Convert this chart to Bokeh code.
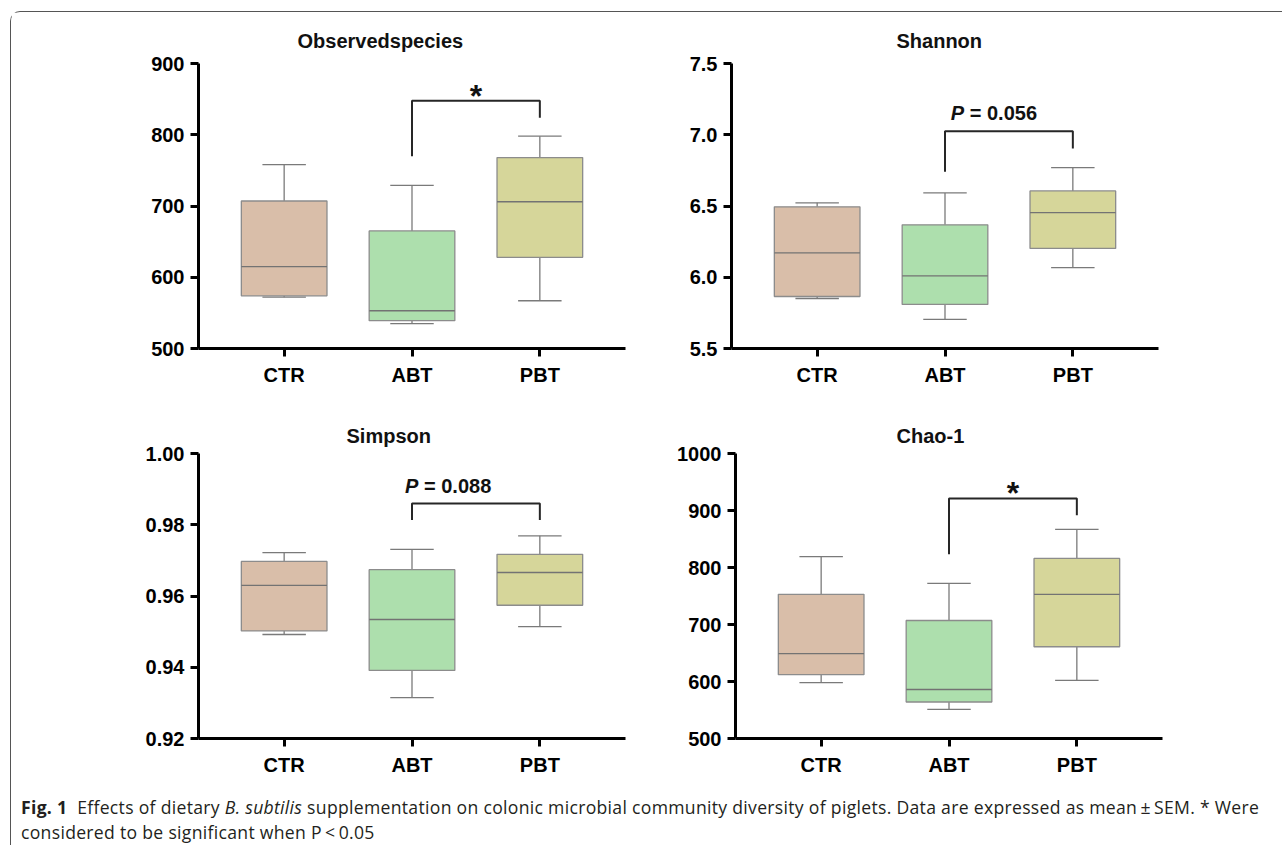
from bokeh.plotting import figure
from bokeh.layouts import column, row
from bokeh.models import FixedTicker, PrintfTickFormatter, Div, Range1d
from bokeh.embed import file_html
from bokeh.resources import INLINE
from bokeh.core.properties import value

# ---------------- data ----------------
groups = ["CTR", "ABT", "PBT"]
fills = ["#D9BEA9", "#ADDFAD", "#D6D69A"]

# Observed species
obs_low = [572, 535, 567]
obs_q1 = [574, 539, 628]
obs_med = [615, 553, 706]
obs_q3 = [707, 665, 768]
obs_high = [758, 729, 798]
obs_ticks = [500, 600, 700, 800, 900]
obs_bracket = [770, 847.6, 847.6, 823.7]
obs_mark_y = 860

# Shannon
sha_low = [5.851, 5.704, 6.068]
sha_q1 = [5.865, 5.809, 6.202]
sha_med = [6.171, 6.010, 6.454]
sha_q3 = [6.494, 6.368, 6.606]
sha_high = [6.522, 6.592, 6.770]
sha_ticks = [5.5, 6.0, 6.5, 7.0, 7.5]
sha_bracket = [6.740, 7.025, 7.025, 6.904]
sha_mark_y = 7.102

# Simpson
sim_low = [0.9492, 0.9315, 0.9514]
sim_q1 = [0.9502, 0.9391, 0.9574]
sim_med = [0.9630, 0.9534, 0.9666]
sim_q3 = [0.9697, 0.9674, 0.9717]
sim_high = [0.9722, 0.9731, 0.9769]
sim_ticks = [0.92, 0.94, 0.96, 0.98, 1.00]
sim_bracket = [0.9813, 0.9860, 0.9860, 0.9813]
sim_mark_y = 0.98896

# Chao-1
cha_low = [598, 551, 602]
cha_q1 = [612, 564, 661]
cha_med = [649, 586, 753]
cha_q3 = [753, 707, 816]
cha_high = [819, 772, 867]
cha_ticks = [500, 600, 700, 800, 900, 1000]
cha_bracket = [823.4, 921.1, 921.1, 891.8]
cha_mark_y = 935.7

pair = ["ABT", "PBT"]

FONT = "Liberation Sans"
BOX_W = 0.67
CAP_W = 0.34


def panel(title, low, q1, med, q3, high, ylim, yticks, fmt, bracket, mark, mark_y,
          mark_dx, width, height, mbl, mbr, mbt, mbb, t_off, t_stand, star_off):
    xs = [i + 1 for i in range(len(groups))]
    p = figure(width=width, height=height, x_range=Range1d(0.33, 3.67),
               y_range=Range1d(ylim[0], ylim[1]), output_backend="svg",
               toolbar_location=None, min_border_left=mbl, min_border_right=mbr,
               min_border_top=mbt, min_border_bottom=mbb, background_fill_color="white",
               border_fill_color="white")
    p.grid.visible = False
    p.outline_line_color = None
    p.title.text = title
    p.title.align = "left"
    p.title.text_font = FONT
    p.title.text_font_size = "20px"
    p.title.text_font_style = "bold"
    p.title.text_color = "#111111"
    p.title.offset = t_off
    p.title.standoff = t_stand

    # whiskers
    p.segment(x0=xs, y0=q3, x1=xs, y1=high, line_color="#7a7a7a", line_width=1.3)
    p.segment(x0=xs, y0=low, x1=xs, y1=q1, line_color="#7a7a7a", line_width=1.3)
    p.segment(x0=[x - CAP_W / 2 for x in xs], y0=high, x1=[x + CAP_W / 2 for x in xs], y1=high,
              line_color="#7a7a7a", line_width=1.3)
    p.segment(x0=[x - CAP_W / 2 for x in xs], y0=low, x1=[x + CAP_W / 2 for x in xs], y1=low,
              line_color="#7a7a7a", line_width=1.3)
    # boxes
    p.vbar(x=xs, width=BOX_W, bottom=q1, top=q3, fill_color=fills,
           line_color="#8c8c8c", line_width=1.3)
    p.segment(x0=[x - BOX_W / 2 for x in xs], y0=med, x1=[x + BOX_W / 2 for x in xs], y1=med,
              line_color="#737373", line_width=1.3)

    # significance bracket
    xa = groups.index(pair[0]) + 1
    xb = groups.index(pair[1]) + 1
    p.line(x=[xa, xa, xb, xb], y=bracket, line_color="#262626", line_width=2)
    if mark == "*":
        p.text(x=[(xa + xb) / 2], y=[mark_y], text=["*"], text_font=value(FONT),
               text_font_size="32px", text_font_style="bold", text_align="center",
               text_baseline="alphabetic", y_offset=star_off, text_color="#111111")
    else:
        p.text(x=[xa + mark_dx], y=[mark_y], text=["P"], text_font=value(FONT),
               text_font_size="20px", text_font_style="bold italic", text_align="left",
               text_baseline="alphabetic", y_offset=-7, text_color="#111111")
        p.text(x=[xa + mark_dx], y=[mark_y], text=["= " + mark], text_font=value(FONT),
               text_font_size="20px", text_font_style="bold", text_align="left",
               text_baseline="alphabetic", x_offset=19, y_offset=-7, text_color="#111111")

    # axes
    p.xaxis.ticker = FixedTicker(ticks=xs)
    p.xaxis.major_label_overrides = {x: g for x, g in zip(xs, groups)}
    p.yaxis.ticker = FixedTicker(ticks=yticks)
    p.yaxis.formatter = PrintfTickFormatter(format=fmt)
    for ax in (p.xaxis, p.yaxis):
        ax.axis_line_width = 3
        ax.axis_line_color = "black"
        ax.major_tick_line_width = 3
        ax.major_tick_line_color = "black"
        ax.major_tick_out = 8
        ax.major_tick_in = 0
        ax.minor_tick_line_color = None
        ax.major_label_text_font = FONT
        ax.major_label_text_font_size = "20px"
        ax.major_label_text_font_style = "bold"
        ax.major_label_text_color = "black"
    p.yaxis.major_label_standoff = 6
    p.xaxis.major_label_standoff = 7
    return p


p1 = panel("Observedspecies", obs_low, obs_q1, obs_med, obs_q3, obs_high, (500, 900),
           obs_ticks, "%d", obs_bracket, "*", obs_mark_y, 0,
           654, 383, 187, 40, 51, 47, 99, 23, 4)
p2 = panel("Shannon", sha_low, sha_q1, sha_med, sha_q3, sha_high, (5.5, 7.5),
           sha_ticks, "%.1f", sha_bracket, "0.056", sha_mark_y, 0.045,
           593, 383, 66, 100, 51, 47, 165, 23, 0)
p3 = panel("Simpson", sim_low, sim_q1, sim_med, sim_q3, sim_high, (0.92, 1.00),
           sim_ticks, "%.2f", sim_bracket, "0.088", sim_mark_y, -0.055,
           654, 390, 187, 40, 58, 47, 148, 14, 0)
p4 = panel("Chao-1", cha_low, cha_q1, cha_med, cha_q3, cha_high, (500, 1000),
           cha_ticks, "%d", cha_bracket, "*", cha_mark_y, 0,
           593, 390, 70, 96, 58, 47, 161, 14, 3)

caption_html = (
    '<div style="font-family:\'Open Sans\',sans-serif;font-size:17.6px;line-height:24.5px;'
    'letter-spacing:0.3px;color:#231f20;white-space:nowrap;">'
    '<b>Fig. 1</b>&nbsp; Effects of dietary <i>B. subtilis</i> supplementation on colonic '
    'microbial community diversity of piglets. Data are expressed as mean&thinsp;&plusmn;&thinsp;SEM. '
    '* Were<br>considered to be significant when P&thinsp;&lt;&thinsp;0.05</div>'
)
cap = Div(text=caption_html, width=1262, height=52, margin=(10, 0, 0, 10))

layout = column(row(p1, p2, spacing=0), row(p3, p4, spacing=0), cap, spacing=0,
                margin=(11, 0, 0, 10),
                styles={"border-top": "1.5px solid #555555",
                        "border-left": "1.5px solid #555555",
                        "border-top-left-radius": "10px"})

with open("out.html", "w") as f:
    f.write(file_html(layout, INLINE))
